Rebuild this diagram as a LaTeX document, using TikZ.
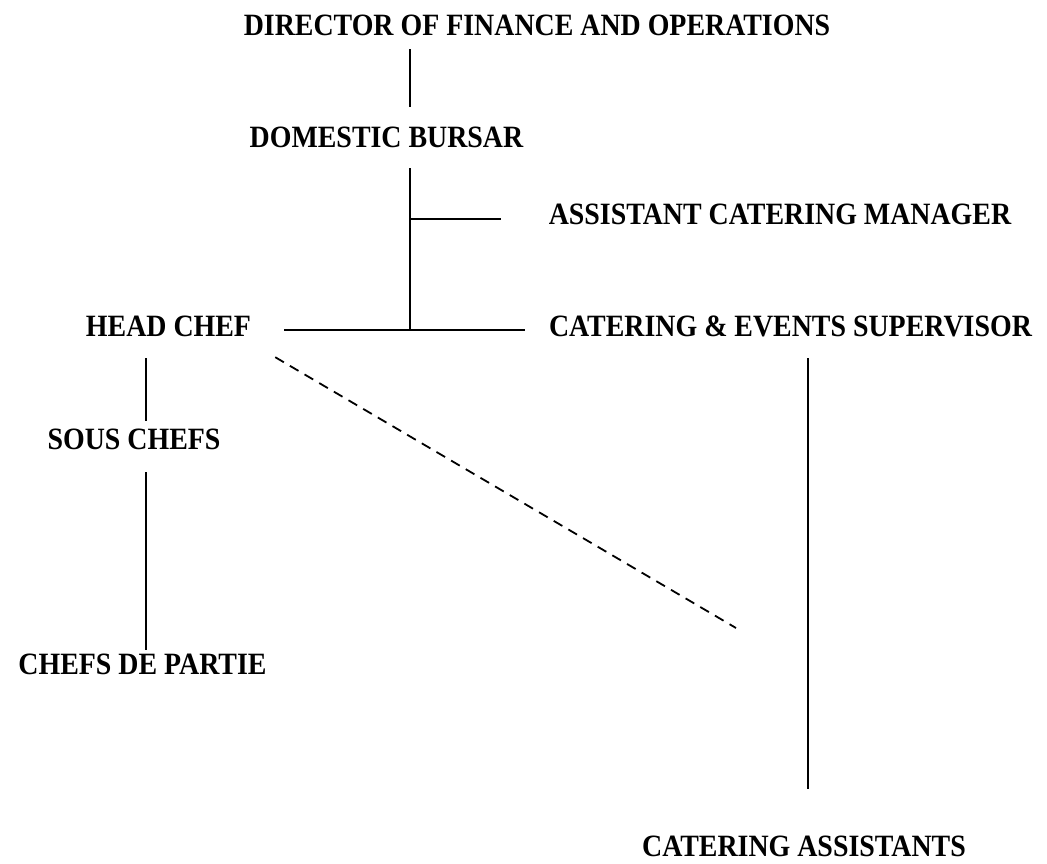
\documentclass[tikz,border=0pt]{standalone}
\usepackage{fontspec}
\setmainfont{Liberation Serif}[FakeStretch=0.9]
\usepackage{tikz}
\usetikzlibrary{calc}

\newcommand{\postfont}{\fontsize{31}{36}\selectfont\bfseries}

\begin{document}
\begin{tikzpicture}[x=1pt, y=-1pt,
    post/.style={font=\postfont, inner sep=0pt, anchor=base, text height=21pt, text depth=0pt},
    link/.style={line width=2.2pt},
    dotlink/.style={line width=1.8pt, dash pattern=on 10pt off 7pt}]
  \useasboundingbox (0,0) rectangle (1047,864);

  % Management
  \node[post] (dir) at (537, 36) {DIRECTOR OF FINANCE AND OPERATIONS};
  \node[post] (bursar) at (386.5, 148) {DOMESTIC BURSAR};
  \node[post] (acm) at (780, 224) {ASSISTANT CATERING MANAGER};
  \coordinate (trunk) at (410, 0);
  \coordinate (tee) at (410, 219);
  \coordinate (hub) at (410, 330);
  \draw[link] ([yshift=-13pt]dir.south -| trunk) -- ([yshift=20pt]bursar.north -| trunk);
  \draw[link] ([yshift=-20pt]bursar.south -| trunk) -- (hub);
  \draw[link] (tee) -- ([xshift=-48pt]acm.west |- tee);

  % Kitchen side
  \node[post] (head) at (168.5, 336) {HEAD CHEF};
  \node[post] (sous) at (134, 449) {SOUS CHEFS};
  \node[post] (cdp) at (142.5, 674) {CHEFS DE PARTIE};
  \coordinate (chefline) at (146, 0);
  \draw[link] (hub) -- ([xshift=33pt]head.east |- hub);
  \draw[link] ([yshift=-22pt]head.south -| chefline) -- ([yshift=7pt]sous.north -| chefline);
  \draw[link] ([yshift=-23pt]sous.south -| chefline) -- ([yshift=3pt]cdp.north -| chefline);

  % Events side
  \node[post] (ces) at (790.5, 336) {CATERING \& EVENTS SUPERVISOR};
  \node[post] (ca) at (804, 856) {CATERING ASSISTANTS};
  \coordinate (eventline) at (808, 0);
  \draw[link] (hub) -- ([xshift=-24pt]ces.west |- hub);
  \draw[link] ([yshift=-22pt]ces.south -| eventline) -- ([yshift=46pt]ca.north -| eventline);

  % Dotted reporting line
  \coordinate (dashend) at (736, 628);
  \draw[dotlink] ([xshift=24pt, yshift=-21pt]head.south east) -- (dashend);
\end{tikzpicture}
\end{document}
